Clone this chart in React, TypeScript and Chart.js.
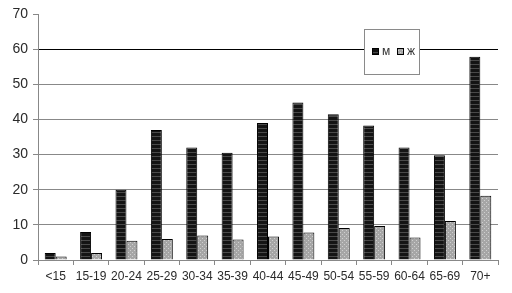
import { useEffect, useRef } from "react";
import { Chart, registerables } from "chart.js";

Chart.register(...registerables);

const categories = ["<15", "15-19", "20-24", "25-29", "30-34", "35-39", "40-44", "45-49", "50-54", "55-59", "60-64", "65-69", "70+"];
const maleValues = [2, 8, 20, 37, 32, 30.5, 39, 44.8, 41.5, 38.3, 32, 29.8, 57.8];
const femaleValues = [1, 2, 5.5, 6, 7, 5.8, 6.7, 7.8, 9.1, 9.7, 6.4, 11.1, 18.3];
const seriesLabels = ["м", "ж"];
const yMin = 0;
const yMax = 70;
const yStep = 10;

function makePattern(base: string, line: string, kind: "h" | "dot"): CanvasPattern | string {
  const c = document.createElement("canvas");
  c.width = 4;
  c.height = 4;
  const g = c.getContext("2d");
  if (!g) return base;
  g.fillStyle = base;
  g.fillRect(0, 0, 4, 4);
  g.fillStyle = line;
  if (kind === "h") {
    g.fillRect(0, 0, 4, 1);
  } else {
    g.fillRect(0, 0, 1, 1);
    g.fillRect(2, 2, 1, 1);
  }
  const p = g.createPattern(c, "repeat");
  return p || base;
}

export default function App() {
  const ref = useRef<HTMLCanvasElement | null>(null);

  useEffect(() => {
    document.body.style.margin = "0";
    const canvas = ref.current;
    if (!canvas) return;
    const darkFill = makePattern("#141414", "#4a4a4a", "h");
    const grayFill = makePattern("#a6a6a6", "#cfcfcf", "dot");

    const legendPlugin = {
      id: "boxLegend",
      afterDraw(chart: any) {
        const ctx = chart.ctx as CanvasRenderingContext2D;
        ctx.save();
        ctx.fillStyle = "#ffffff";
        ctx.fillRect(364, 29, 55, 45);
        ctx.strokeStyle = "#8a8a8a";
        ctx.lineWidth = 1;
        ctx.strokeRect(364.5, 29.5, 55, 45);
        const fills = [darkFill, grayFill];
        const xs = [372, 397];
        ctx.font = "12px 'Liberation Sans', Arial, sans-serif";
        ctx.textBaseline = "middle";
        ctx.textAlign = "left";
        for (let i = 0; i < seriesLabels.length; i++) {
          ctx.fillStyle = fills[i] as any;
          ctx.fillRect(xs[i], 48, 7, 7);
          ctx.strokeStyle = "#000";
          ctx.strokeRect(xs[i] + 0.5, 48.5, 6, 6);
          ctx.fillStyle = "#333";
          ctx.fillText(seriesLabels[i], xs[i] + 10, 52);
        }
        ctx.restore();
      },
    };

    const chart = new Chart(canvas, {
      type: "bar",
      data: {
        labels: categories,
        datasets: [
          {
            label: seriesLabels[0],
            data: maleValues,
            backgroundColor: darkFill as any,
            borderColor: "#000",
            borderWidth: 1,
            barPercentage: 1,
            categoryPercentage: 0.62,
          },
          {
            label: seriesLabels[1],
            data: femaleValues,
            backgroundColor: grayFill as any,
            borderColor: "#000",
            borderWidth: 1,
            barPercentage: 1,
            categoryPercentage: 0.62,
          },
        ],
      },
      options: {
        responsive: false,
        animation: false,
        layout: { padding: { top: 14, right: 14, left: 0, bottom: 0 } },
        plugins: {
          legend: { display: false },
          tooltip: { enabled: false },
        },
        scales: {
          x: {
            grid: {
              offset: true,
              drawOnChartArea: false,
              drawTicks: true,
              tickLength: 5,
              tickColor: "#888",
            },
            border: { color: "#888" },
            ticks: {
              padding: 4,
              color: "#2a2a2a",
              maxRotation: 0,
              autoSkip: false,
              font: { family: "'Liberation Sans', Arial, sans-serif", size: 12 },
            },
            afterFit: (s: any) => {
              s.height = 33;
            },
          },
          y: {
            min: yMin,
            max: yMax,
            grid: {
              color: (c: any) => (c.tick && c.tick.value === 60 ? "#000" : c.tick && c.tick.value === 70 ? "rgba(0,0,0,0)" : "#888"),
              tickColor: "#888",
              tickLength: 5,
            },
            border: { color: "#888" },
            ticks: {
              stepSize: yStep,
              padding: 5,
              color: "#2a2a2a",
              font: { family: "'Liberation Sans', Arial, sans-serif", size: 14 },
            },
            afterFit: (s: any) => {
              s.width = 38;
            },
          },
        },
      },
      plugins: [legendPlugin],
    });
    return () => chart.destroy();
  }, []);

  return <canvas ref={ref} width={512} height={293} style={{ display: "block" }} />;
}
